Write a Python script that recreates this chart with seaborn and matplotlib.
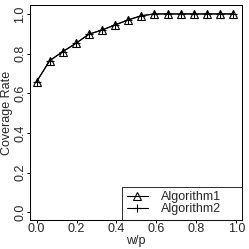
import matplotlib
matplotlib.use("Agg")
import matplotlib.pyplot as plt
import seaborn as sns
import pandas as pd

# data
wp = [0.0, 0.066, 0.131, 0.197, 0.262, 0.328, 0.394, 0.459, 0.525, 0.590,
      0.656, 0.721, 0.787, 0.852, 0.918, 0.984]
alg1 = [0.659, 0.765, 0.810, 0.852, 0.898, 0.919, 0.945, 0.970, 0.991, 1.0,
        1.0, 1.0, 1.0, 1.0, 1.0, 1.0]
alg2 = [0.659, 0.765, 0.810, 0.852, 0.898, 0.919, 0.945, 0.970, 0.991, 1.0,
        1.0, 1.0, 1.0, 1.0, 1.0, 1.0]
series_names = ["Algorithm1", "Algorithm2"]
xticks = [0.0, 0.2, 0.4, 0.6, 0.8, 1.0]
yticks = [0.0, 0.2, 0.4, 0.6, 0.8, 1.0]

sns.set_style("white")
plt.rcParams["font.family"] = ["Liberation Sans", "DejaVu Sans"]

df = pd.concat([
    pd.DataFrame({"w/p": wp, "rate": alg1, "alg": series_names[0]}),
    pd.DataFrame({"w/p": wp, "rate": alg2, "alg": series_names[1]}),
])

fig = plt.figure(figsize=(2.49, 2.49), dpi=100)
ax = fig.add_axes([30 / 249, 29 / 249, 211.7 / 249, 215 / 249])

sns.lineplot(data=df[df.alg == series_names[0]], x="w/p", y="rate", ax=ax,
             color="black", lw=0.8, marker="^", markersize=5.5,
             markerfacecolor="none", markeredgecolor="black", markeredgewidth=0.8,
             label=series_names[0])
sns.lineplot(data=df[df.alg == series_names[1]], x="w/p", y="rate", ax=ax,
             color="black", lw=0.8, marker="+", markersize=6,
             markeredgecolor="black", markeredgewidth=0.8,
             label=series_names[1])

ax.set_xlim(-0.033, 1.027)
ax.set_ylim(-0.038, 1.045)
ax.set_xticks(xticks)
ax.set_yticks(yticks)
fs = 9
ax.set_xticklabels([f"{t:.1f}" for t in xticks], fontsize=fs)
ax.set_yticklabels([f"{t:.1f}" for t in yticks], fontsize=fs,
                   rotation=90, va="center")
ax.tick_params(axis="both", direction="out", length=2.2, width=0.75,
               color="black", pad=0.3, left=True, bottom=True)
ax.set_xlabel("w/p", fontsize=fs, labelpad=-0.5)
ax.set_ylabel("Coverage Rate", fontsize=fs, labelpad=1)
for s in ax.spines.values():
    s.set_color("black")
    s.set_linewidth(0.75)

leg = ax.legend(loc="lower left", bbox_to_anchor=(0.4346, 0.0, 0.5654, 0.18),
                mode="expand", frameon=True, fancybox=False,
                borderaxespad=0, fontsize=fs, handlelength=1.7,
                borderpad=0.38, labelspacing=0.0, handletextpad=1.05)
leg.get_frame().set_edgecolor("black")
leg.get_frame().set_linewidth(0.75)

fig.savefig("out.png", dpi=100)
